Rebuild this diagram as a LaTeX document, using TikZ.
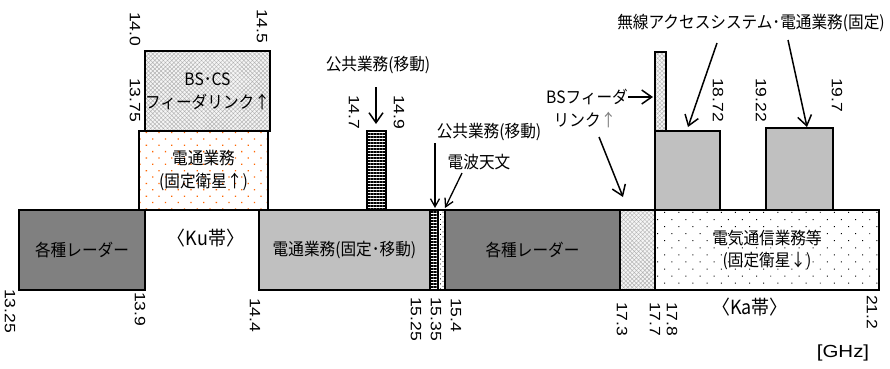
\documentclass[tikz,border=0pt]{standalone}
\usepackage{fontspec}
\setmainfont{Noto Sans CJK JP}[FakeStretch=0.92]
\newfontfamily\numf{Liberation Sans}[FakeStretch=1.17]
\usetikzlibrary{patterns.meta,arrows.meta}
\definecolor{rad}{HTML}{808080}
\definecolor{lgray}{HTML}{C0C0C0}
\definecolor{dotor}{HTML}{FF6600}
\newcommand\jpf{\fontsize{17}{23}\selectfont}
\begin{document}
\begin{tikzpicture}[x=1pt,y=-1pt,
  box/.style={draw, line width=1.5pt, rectangle, inner sep=0pt, align=center, font=\jpf},
  hatchbox/.style={box, preaction={fill=gray!8}, pattern={Hatch[distance=3pt,angle=45,line width=0.45pt]}, pattern color=gray!60},
  stripebox/.style={box, preaction={fill=white}, pattern={Lines[angle=0,distance=3pt,line width=1.3pt]}, pattern color=black},
  lab/.style={inner sep=0pt, align=center, font=\jpf},
  bandlab/.style={inner sep=0pt, font=\fontsize{19.5}{20}\selectfont},
  num/.style={inner sep=0pt, rotate=-90, anchor=west, font=\numf\fontsize{15}{15}\selectfont},
  arr/.style={line width=1.5pt, -{Straight Barb[length=10pt,width=14pt,line width=1.5pt]}},
  sarr/.style={line width=1.3pt, -{Straight Barb[length=8pt,width=9pt,line width=1.3pt]}}
]
\useasboundingbox (0,0) rectangle (890,368);

% upper boxes
\node[hatchbox, minimum width=121pt, minimum height=80pt] (bscs) at (207.5,91) {BS･CS\\フィーダリンク↑};
\node[box, preaction={fill=white}, pattern={Dots[distance=9pt,angle=45,radius=0.9pt]}, pattern color=dotor, minimum width=129pt, minimum height=79pt] (fss) at (203.5,170.5) {電通業務\\(固定衛星↑)};
\node[stripebox, minimum width=19pt, minimum height=79pt] (pubbar) at (376.5,170.5) {};
\node[hatchbox, minimum width=11pt, minimum height=79pt] (bsbar) at (660.5,91.5) {};
\node[box, fill=lgray, minimum width=65pt, minimum height=79pt] (fix1) at (687.5,170.5) {};
\node[box, fill=lgray, minimum width=67pt, minimum height=82pt] (fix2) at (799.5,169) {};

% main band
\node[box, fill=rad, minimum width=126pt, minimum height=80pt] (rad1) at (82,250) {各種レーダー};
\node[box, fill=lgray, minimum width=171pt, minimum height=80pt] (fm) at (344.5,250) {電通業務(固定･移動)};
\node[stripebox, minimum width=8pt, minimum height=80pt] (pub2) at (434,250) {};
\node[box, preaction={fill=white}, pattern={Dots[distance=3.5pt,angle=45,radius=0.6pt]}, pattern color=black, minimum width=7pt, minimum height=80pt] (ra) at (441.5,250) {};
\node[box, fill=rad, minimum width=175pt, minimum height=80pt] (rad2) at (532.5,250) {各種レーダー};
\node[hatchbox, minimum width=35pt, minimum height=80pt] (bsfl) at (637.5,250) {};
\node[box, preaction={fill=white}, pattern={Dots[distance=10pt,angle=45,radius=0.7pt]}, pattern color=black, minimum width=224pt, minimum height=80pt] (ka) at (767,250) {電気通信業務等\\[-1pt](固定衛星↓)};

% labels
\node[bandlab] (ku) at (206,238) {〈Ku帯〉};
\node[bandlab] (kab) at (750,307) {〈Ka帯〉};
\node[inner sep=0pt, font=\numf\fontsize{17.5}{17.5}\selectfont] (ghz) at (843,353) {[GHz]};
\node[lab] (publ1) at (378,65) {公共業務(移動)};
\node[lab] (publ2) at (489,132) {公共業務(移動)};
\node[lab] (radio) at (479,162) {電波天文};
\node[lab] (bsf1) at (587,97) {BSフィーダ};
\node[lab] (bsf2) at (585,120) {リンク{\color{gray}↑}};
\node[lab] (wa) at (751,23) {無線アクセスシステム･電通業務(固定)};

% frequency numbers
\node[num] (f140) at (135,12) {14.0};
\node[num] (f145) at (262,9) {14.5};
\node[num] (f1375) at (135,78) {13.75};
\node[num] (f147) at (354,95) {14.7};
\node[num] (f149) at (399,95) {14.9};
\node[num] (f1872) at (718,78) {18.72};
\node[num] (f1922) at (761,78) {19.22};
\node[num] (f197) at (837,78) {19.7};
\node[num] (f1325) at (10,289) {13.25};
\node[num] (f139) at (140,292) {13.9};
\node[num] (f144) at (255,298) {14.4};
\node[num] (f1525) at (416,297) {15.25};
\node[num] (f1535) at (436,297) {15.35};
\node[num] (f154) at (456,298) {15.4};
\node[num] (f173) at (622,302) {17.3};
\node[num] (f177) at (655,302) {17.7};
\node[num] (f178) at (672,302) {17.8};
\node[num] (f212) at (872,295) {21.2};

% arrows
\coordinate (a1s) at (376,87);  \coordinate (a1e) at (376,124);
\coordinate (a2s) at (435,143); \coordinate (a2e) at (435,208);
\coordinate (a3s) at (462,173); \coordinate (a3e) at (445,208);
\coordinate (a4s) at (628,97);  \coordinate (a4e) at (653,97);
\coordinate (a5s) at (599,137); \coordinate (a5e) at (623,197);
\coordinate (a6s) at (717,43);  \coordinate (a6e) at (688,127);
\coordinate (a7s) at (788,40);  \coordinate (a7e) at (807,127);
\draw[arr] (a1s) -- (a1e);
\draw[sarr] (a2s) -- (a2e);
\draw[sarr] (a3s) -- (a3e);
\draw[arr] (a4s) -- (a4e);
\draw[arr] (a5s) -- (a5e);
\draw[arr] (a6s) -- (a6e);
\draw[arr] (a7s) -- (a7e);
\end{tikzpicture}
\end{document}
